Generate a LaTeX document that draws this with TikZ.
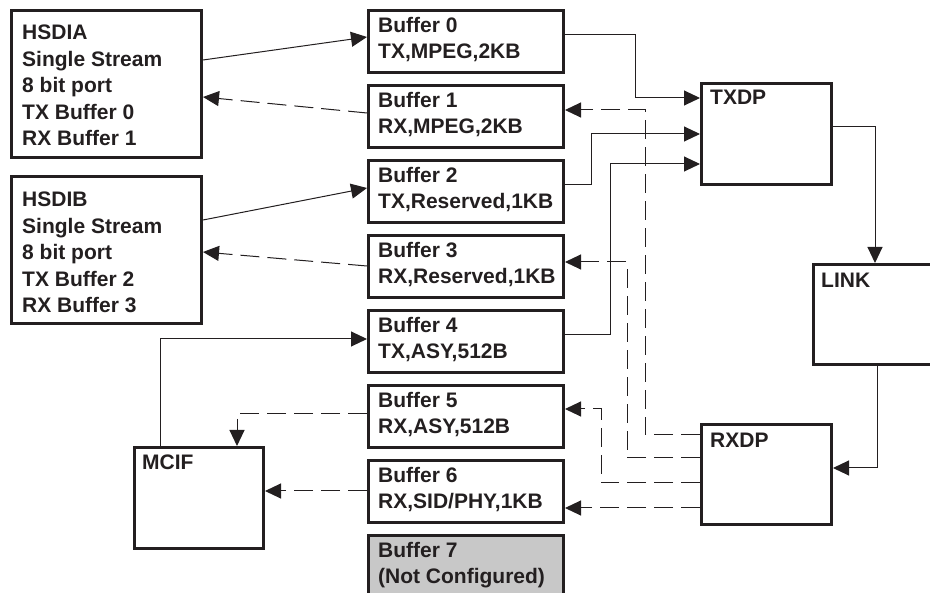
\documentclass[tikz,border=0pt]{standalone}
\usepackage{fontspec}
\setmainfont{Liberation Sans}
\usetikzlibrary{arrows.meta,calc}
\definecolor{ink}{HTML}{231F20}
\definecolor{grayfill}{HTML}{C8C8C8}
\begin{document}
\begin{tikzpicture}[x=1pt,y=-1pt,
  box/.style={draw=ink,line width=3pt,rectangle,inner sep=0pt,anchor=north west},
  txt/.style={anchor=north west,inner sep=0pt,align=left,text=ink,font=\fontsize{21}{26.5}\selectfont\bfseries},
  conn/.style={draw=ink,line width=1pt},
  dsh/.style={conn,dash pattern=on 19pt off 8pt},
  tip/.style={-{Triangle[length=16pt,width=15pt]}}
]
\useasboundingbox (0,0) rectangle (930,593);

% left boxes
\node[box,minimum width=190pt,minimum height=147pt] (hsdia) at (10,9) {};
\node[txt] (hsdiat) at (22,25) {HSDIA\\Single Stream\\8 bit port\\TX Buffer 0\\RX Buffer 1};
\node[box,minimum width=190pt,minimum height=147pt] (hsdib) at (10,175) {};
\node[txt] (hsdibt) at (22,192) {HSDIB\\Single Stream\\8 bit port\\TX Buffer 2\\RX Buffer 3};

% buffers
\node[box,minimum width=195pt,minimum height=62pt] (b0) at (367,9) {};
\node[txt] (b0t) at (378,17) {Buffer 0\\TX,MPEG,2KB};
\node[box,minimum width=195pt,minimum height=62pt] (b1) at (367,84) {};
\node[txt] (b1t) at (378,92) {Buffer 1\\RX,MPEG,2KB};
\node[box,minimum width=195pt,minimum height=62pt] (b2) at (367,159) {};
\node[txt] (b2t) at (378,167) {Buffer 2\\TX,Reserved,1KB};
\node[box,minimum width=195pt,minimum height=62pt] (b3) at (367,234) {};
\node[txt] (b3t) at (378,242) {Buffer 3\\RX,Reserved,1KB};
\node[box,minimum width=195pt,minimum height=62pt] (b4) at (367,309) {};
\node[txt] (b4t) at (378,317) {Buffer 4\\TX,ASY,512B};
\node[box,minimum width=195pt,minimum height=62pt] (b5) at (367,384) {};
\node[txt] (b5t) at (378,392) {Buffer 5\\RX,ASY,512B};
\node[box,minimum width=195pt,minimum height=62pt] (b6) at (367,459) {};
\node[txt] (b6t) at (378,467) {Buffer 6\\RX,SID/PHY,1KB};
\node[box,fill=grayfill,minimum width=195pt,minimum height=80pt] (b7) at (367,534) {};
\node[txt] (b7t) at (378,542) {Buffer 7\\(Not Configured)};

% right blocks
\node[box,minimum width=130pt,minimum height=101pt] (txdp) at (700,82) {};
\node[txt] (txdpt) at (710,90) {TXDP};
\node[box,minimum width=140pt,minimum height=100pt] (link) at (812,263) {};
\node[txt] (linkt) at (821,273) {LINK};
\node[box,minimum width=130pt,minimum height=100pt] (rxdp) at (700,423) {};
\node[txt] (rxdpt) at (710,433) {RXDP};
\node[box,minimum width=129pt,minimum height=101pt] (mcif) at (133,446) {};
\node[txt] (mcift) at (142,455) {MCIF};

% HSDI connectors
\draw[conn,tip] ($(hsdia.north east)+(0,51)$) -- ($(b0.north west)+(0,28)$);
\draw[dsh,tip] ($(b1.north west)+(0,29)$) -- ($(hsdia.north east)+(0,88)$);
\draw[conn,tip] ($(hsdib.north east)+(0,45)$) -- ($(b2.north west)+(0,29)$);
\draw[dsh,tip] ($(b3.north west)+(0,32)$) -- ($(hsdib.north east)+(0,77)$);

% TX to TXDP
\draw[conn,tip] ($(b0.north east)+(0,26)$) -- ++(70,0) |- ($(txdp.north west)+(0,16)$);
\draw[conn,tip] ($(b2.north east)+(0,26)$) -- ++(26,0) |- ($(txdp.north west)+(0,52)$);
\draw[conn,tip] ($(b4.north east)+(0,26)$) -- ++(45,0) |- ($(txdp.north west)+(0,82)$);

% TXDP - LINK - RXDP
\draw[conn,tip] ($(txdp.north east)+(0,45)$) -| ($(link.north west)+(63,0)$);
\draw[conn,tip] ($(link.south west)+(65,0)$) |- ($(rxdp.north east)+(0,45)$);

% RXDP to RX buffers
\draw[dsh,tip] ($(rxdp.north west)+(0,12)$) -- ++(-55,0) |- ($(b1.north east)+(0,26)$);
\draw[dsh,tip] ($(rxdp.north west)+(0,35)$) -- ++(-73,0) |- ($(b3.north east)+(0,28)$);
\draw[dsh,tip] ($(rxdp.north west)+(0,60)$) -- ++(-99,0) |- ($(b5.north east)+(0,25)$);
\draw[dsh,tip] ($(rxdp.north west)+(0,85)$) -- ($(b6.north east)+(0,49)$);

% MCIF
\draw[conn,tip] ($(mcif.north west)+(27,0)$) |- ($(b4.north west)+(0,30)$);
\draw[dsh,tip] ($(b5.north west)+(0,30)$) -| ($(mcif.north west)+(104,0)$);
\draw[dsh,tip] ($(b6.north west)+(0,32)$) -- ($(mcif.north east)+(0,45)$);
\end{tikzpicture}
\end{document}
